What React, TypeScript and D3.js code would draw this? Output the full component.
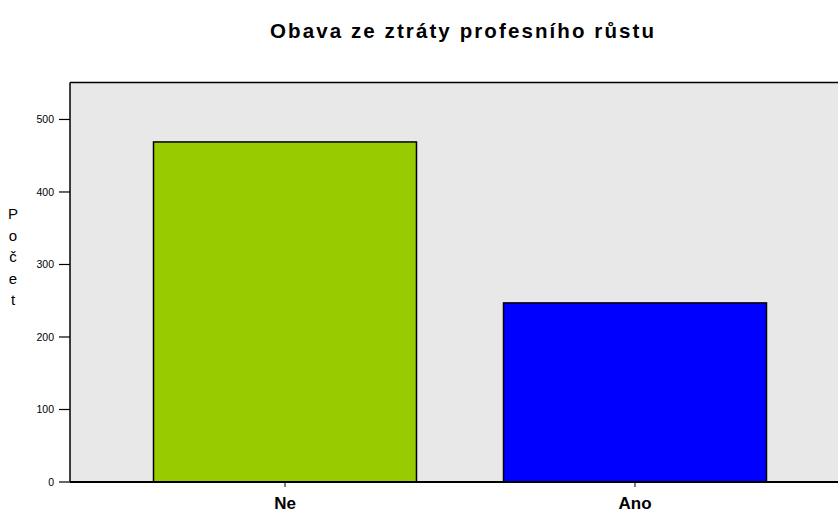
import React from "react";
import * as d3 from "d3";

const categories = ["Ne", "Ano"];
const counts = [469, 247];
const colors = ["#99CC00", "#0000FF"];
const yTicks = [0, 100, 200, 300, 400, 500];
const title = "Obava ze ztráty profesního růstu";
const yLabel = "Počet";

export default function App() {
  const W = 838, H = 512;
  const plotL = 70, plotT = 82.5, plotB = 482, plotR = 850;
  const y = d3.scaleLinear().domain([0, 551]).range([plotB, plotT]);
  const x = d3
    .scaleBand<string>()
    .domain(categories)
    .range([110, 810])
    .paddingInner(0.2486)
    .paddingOuter(0.1243);
  const font = "Arial, 'Liberation Sans', Helvetica, sans-serif";
  return (
    <svg
      width={W}
      height={H}
      style={{ position: "absolute", left: 0, top: 0, background: "#fff" }}
      fontFamily={font}
    >
      <rect x={plotL} y={plotT} width={plotR - plotL} height={plotB - plotT} fill="#E8E8E8" />
      <line x1={plotL} x2={plotR} y1={plotT} y2={plotT} stroke="#000" strokeWidth={1.5} />
      <line x1={plotL} x2={plotL} y1={plotT} y2={plotB} stroke="#000" strokeWidth={1.5} />
      {categories.map((c, i) => (
        <rect
          key={c}
          x={x(c)!}
          y={y(counts[i])}
          width={x.bandwidth()}
          height={y(0) - y(counts[i])}
          fill={colors[i]}
          stroke="#000"
          strokeWidth={1.5}
        />
      ))}
      <line x1={plotL} x2={plotR} y1={plotB} y2={plotB} stroke="#000" strokeWidth={2} />
      {yTicks.map((t) => (
        <g key={t}>
          <line x1={59} x2={plotL} y1={y(t)} y2={y(t)} stroke="#000" strokeWidth={1.2} />
          <text x={54} y={y(t)} dy="0.35em" textAnchor="end" fontSize={10.5} fill="#000">
            {t}
          </text>
        </g>
      ))}
      {categories.map((c) => (
        <g key={c}>
          <line
            x1={x(c)! + x.bandwidth() / 2}
            x2={x(c)! + x.bandwidth() / 2}
            y1={plotB}
            y2={plotB + 5}
            stroke="#000"
            strokeWidth={1}
          />
          <text
            x={x(c)! + x.bandwidth() / 2}
            y={509}
            textAnchor="middle"
            fontSize={17}
            fontWeight="bold"
            fill="#000"
          >
            {c}
          </text>
        </g>
      ))}
      {yLabel.split("").map((ch, i) => (
        <text key={i} x={13} y={214 + i * 21.5} dy="0.35em" textAnchor="middle" fontSize={15} fill="#000">
          {ch}
        </text>
      ))}
      <text
        x={462}
        y={38}
        textAnchor="middle"
        fontSize={20.5}
        fontWeight="bold"
        fill="#000"
        textLength={384}
        lengthAdjust="spacing"
      >
        {title}
      </text>
    </svg>
  );
}
